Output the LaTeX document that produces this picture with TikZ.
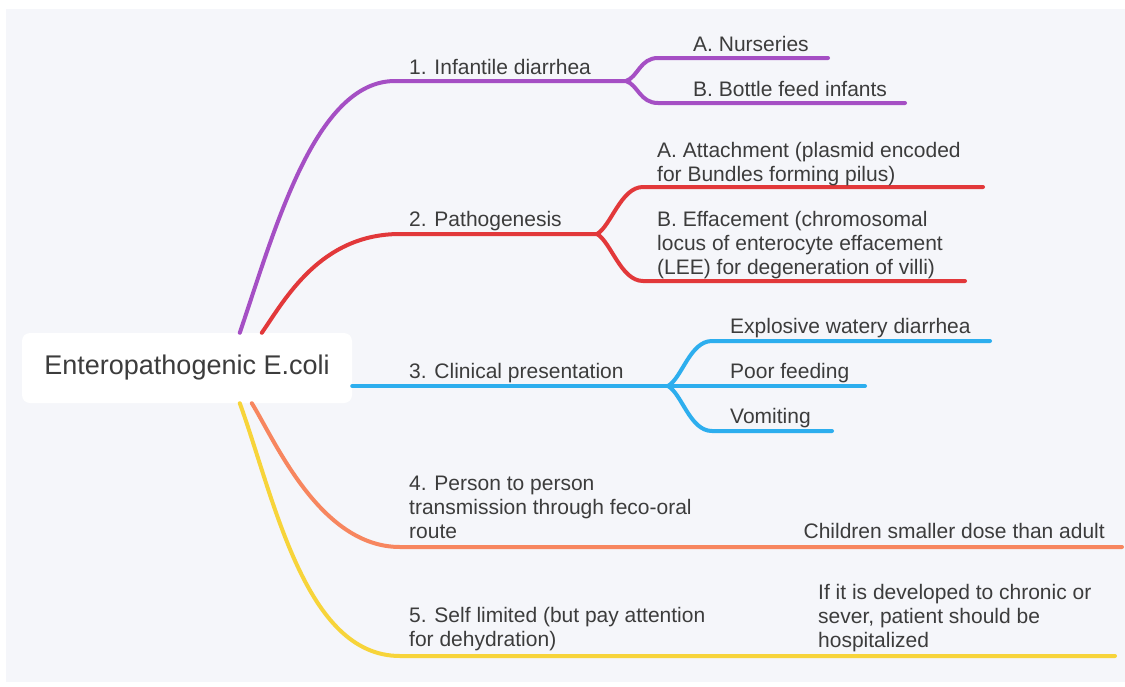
\documentclass[tikz,border=0pt]{standalone}
\usepackage{fontspec}
\setmainfont{Liberation Sans}
\definecolor{bg}{HTML}{F5F6FA}
\definecolor{ink}{HTML}{3C3C3C}
\definecolor{cpurple}{HTML}{A54FC4}
\definecolor{cred}{HTML}{E2383A}
\definecolor{cblue}{HTML}{2DAEEE}
\definecolor{corange}{HTML}{F7865F}
\definecolor{cyellow}{HTML}{F7D43A}
\newcommand{\stack}[1]{\begin{tabular}[t]{@{}l@{}}#1\end{tabular}}
\begin{document}
\begin{tikzpicture}[x=1pt,y=-1pt,
  lbl/.style={anchor=base west, inner sep=0pt, text=ink,
              font=\fontsize{21}{24}\selectfont},
  branch/.style={line width=4pt, line cap=round, line join=round},
  rootbox/.style={fill=white, rounded corners=8pt, minimum width=330pt,
                  minimum height=70pt, inner sep=0pt, text=ink,
                  font=\fontsize{27}{30}\selectfont}]
% canvas
\useasboundingbox (0,0) rectangle (1125,686);
\fill[white] (0,0) rectangle (1125,686);
\fill[bg] (6,9) rectangle (1125,682);

% central topic
\node[rootbox] (root) at (187,368) {Enteropathogenic E.coli};

% ---------- 1. Infantile diarrhea ----------
\coordinate (c1) at (395,81);
\coordinate (f1) at (626,81);
\coordinate (a1s) at (658,58);  \coordinate (a1e) at (828,58);
\coordinate (b1s) at (658,103); \coordinate (b1e) at (905,103);
\draw[branch, cpurple] ([xshift=218pt]root.north west)
      .. controls +(35,-103) and +(-80,0) .. (c1) -- (f1);
\draw[branch, cpurple] (f1) .. controls +(12,-4) and +(-18,0) .. (a1s) -- (a1e);
\draw[branch, cpurple] (f1) .. controls +(12,4) and +(-18,0) .. (b1s) -- (b1e);
\node[lbl] (t1)  at (409,74) {1. Infantile diarrhea};
\node[lbl] (t1a) at (693,51) {A. Nurseries};
\node[lbl] (t1b) at (693,96) {B. Bottle feed infants};

% ---------- 2. Pathogenesis ----------
\coordinate (c2) at (400,234);
\coordinate (f2) at (597,234);
\coordinate (a2s) at (643,187); \coordinate (a2e) at (983,187);
\coordinate (b2s) at (643,281); \coordinate (b2e) at (965,281);
\draw[branch, cred] ([xshift=240pt]root.north west)
      .. controls +(23,-33) and +(-80,0) .. (c2) -- (f2);
\draw[branch, cred] (f2) .. controls +(14,-8) and +(-22,0) .. (a2s) -- (a2e);
\draw[branch, cred] (f2) .. controls +(14,8) and +(-22,0) .. (b2s) -- (b2e);
\node[lbl] (t2)  at (409,226) {2. Pathogenesis};
\node[lbl] (t2a) at (657,157) {\stack{A. Attachment (plasmid encoded\\for Bundles forming pilus)}};
\node[lbl] (t2b) at (657,226) {\stack{B. Effacement (chromosomal\\locus of enterocyte effacement\\(LEE) for degeneration of villi)}};

% ---------- 3. Clinical presentation ----------
\coordinate (f3) at (668,386);
\coordinate (a3s) at (712,341); \coordinate (a3e) at (990,341);
\coordinate (b3e) at (865,386);
\coordinate (c3s) at (712,431); \coordinate (c3e) at (832,431);
\draw[branch, cblue] ([yshift=-18pt]root.east) -- (f3) -- (b3e);
\draw[branch, cblue] (f3) .. controls +(14,-8) and +(-22,0) .. (a3s) -- (a3e);
\draw[branch, cblue] (f3) .. controls +(14,8) and +(-22,0) .. (c3s) -- (c3e);
\node[lbl] (t3)  at (409,378) {3. Clinical presentation};
\node[lbl] (t3a) at (730,333) {Explosive watery diarrhea};
\node[lbl] (t3b) at (730,378) {Poor feeding};
\node[lbl] (t3c) at (730,423) {Vomiting};

% ---------- 4. Transmission ----------
\coordinate (c4) at (400,547);
\coordinate (e4) at (1122,547);
\draw[branch, corange] ([xshift=230pt]root.south west)
      .. controls +(23,37) and +(-80,0) .. (c4) -- (e4);
\node[lbl] (t4)  at (409,490) {\stack{4. Person to person\\transmission through feco-oral\\route}};
\node[lbl, anchor=base east] (t4a) at (1105,538) {Children smaller dose than adult};

% ---------- 5. Self limited ----------
\coordinate (c5) at (400,656);
\coordinate (e5) at (1115,656);
\draw[branch, cyellow] ([xshift=218pt]root.south west)
      .. controls +(35,97) and +(-95,0) .. (c5) -- (e5);
\node[lbl] (t5)  at (409,622) {\stack{5. Self limited (but pay attention\\for dehydration)}};
\node[lbl] (t5a) at (818,599) {\stack{If it is developed to chronic or\\sever, patient should be\\hospitalized}};
\end{tikzpicture}
\end{document}
